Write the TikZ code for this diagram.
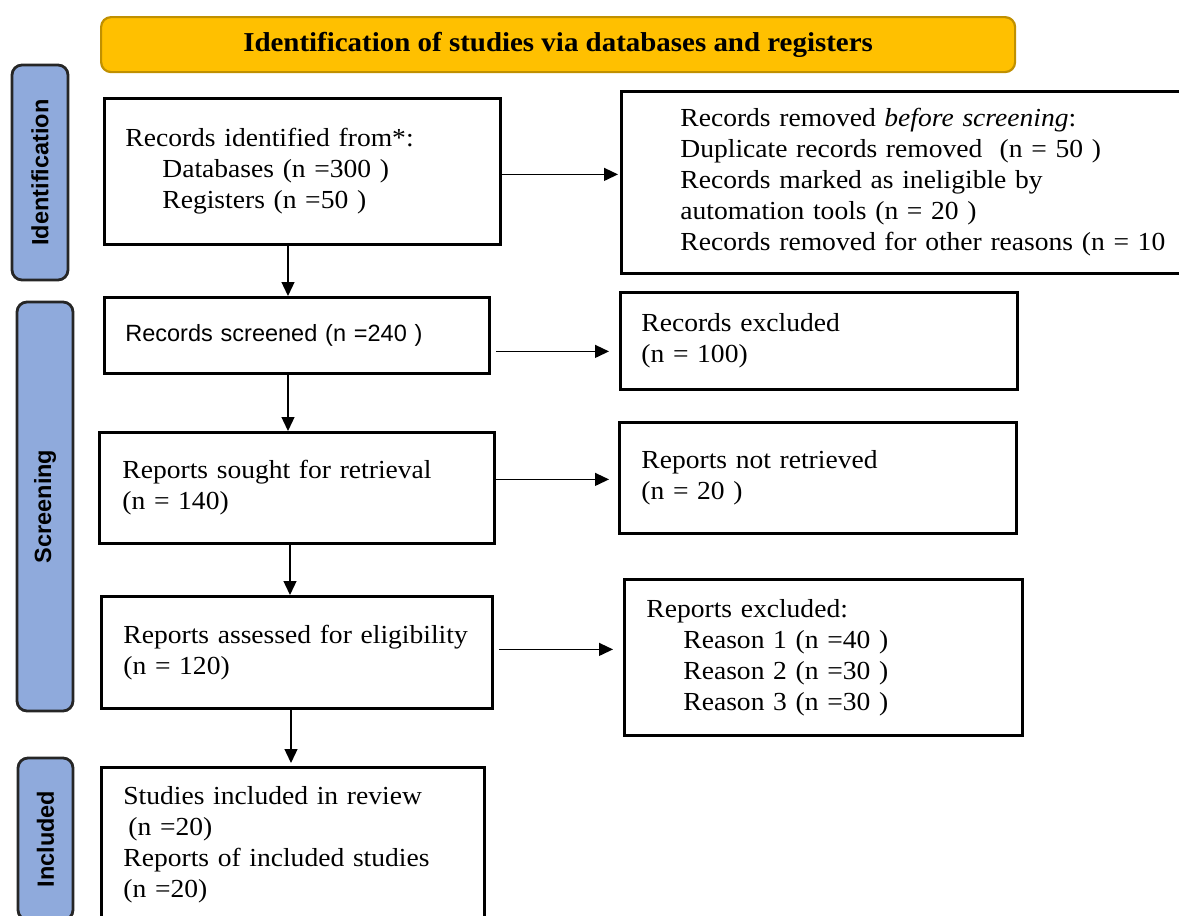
\documentclass[tikz,border=0pt]{standalone}
\usepackage{fontspec}
\setmainfont{Liberation Serif}[FakeStretch=1.06]
\newfontfamily\sansf{Liberation Sans}
\usetikzlibrary{arrows.meta,calc}
\definecolor{gold}{HTML}{FFC000}
\definecolor{goldborder}{HTML}{C09000}
\definecolor{sideblue}{HTML}{8FAADC}
\begin{document}
\begin{tikzpicture}[x=1pt,y=-1pt,
  box/.style={draw=black,line width=2.8pt,fill=white,align=left,inner xsep=21pt,inner ysep=0pt,
    font=\fontsize{26}{31}\selectfont,anchor=north west},
  side/.style={draw=black!85,line width=2.8pt,fill=sideblue,rounded corners=10pt,rotate=90,
    font=\sansf\bfseries\fontsize{23.5}{28}\selectfont},
  arr/.style={line width=1.3pt,-{Triangle[length=14pt,width=13pt]}}]
\useasboundingbox (0,0) rectangle (1179,916);
% title banner
\node[draw=goldborder,line width=2.2pt,fill=gold,rounded corners=10pt,minimum width=914pt,minimum height=55pt,
  anchor=north west,font=\bfseries\fontsize{27.3}{31}\selectfont] (title) at (100,16)
  {Identification of studies via databases and registers};
% side labels
\node[side,minimum width=215pt,minimum height=56pt] (sid) at (40,172.5) {Identification};
\node[side,minimum width=409pt,minimum height=56pt] (sscr) at (45,506.5) {Screening};
\node[side,minimum width=162pt,minimum height=55pt] (sinc) at (45.5,839) {Included};
% boxes
\node[box,minimum width=396pt,minimum height=146pt,text width=354pt] (b1) at (103,97)
  {Records identified from*:\\\hspace*{37pt}Databases (n =300 )\\\hspace*{37pt}Registers (n =50 )};
\node[box,minimum width=678pt,minimum height=182pt,inner xsep=59pt,text width=560pt] (rm) at (620,90)
  {Records removed \textit{before screening}:\\Duplicate records removed\ \ (n = 50 )\\Records marked as ineligible by\\automation tools (n = 20 )\\Records removed for other reasons (n = 10};
\node[box,minimum width=385pt,minimum height=76pt,text width=343pt,font=\sansf\fontsize{23.5}{29}\selectfont] (b2) at (103,296)
  {Records screened (n =240 )};
\node[box,minimum width=397pt,minimum height=97pt,text width=355pt] (ex) at (619,291)
  {Records excluded\\(n = 100)};
\node[box,minimum width=395pt,minimum height=111pt,inner xsep=23pt,text width=349pt] (b3) at (98,431)
  {Reports sought for retrieval\\(n = 140)};
\node[box,minimum width=397pt,minimum height=111pt,inner xsep=22pt,text width=353pt] (nr) at (618,421)
  {Reports not retrieved\\(n = 20 )};
\node[box,minimum width=391pt,minimum height=112pt,inner xsep=22pt,text width=347pt] (b4) at (100,595)
  {Reports assessed for eligibility\\(n = 120)};
\node[box,minimum width=398pt,minimum height=156pt,inner xsep=22pt,text width=354pt] (re) at (623,578)
  {Reports excluded:\\\hspace*{37pt}Reason 1 (n =40 )\\\hspace*{37pt}Reason 2 (n =30 )\\\hspace*{37pt}Reason 3 (n =30 )};
\node[box,minimum width=383pt,minimum height=154pt,inner xsep=22pt,text width=339pt] (b5) at (100,766)
  {Studies included in review\\\hspace*{5pt}(n =20)\\Reports of included studies\\(n =20)};
% horizontal arrows
\coordinate (h1) at ([yshift=-3pt]b1.east);
\coordinate (h2) at ([yshift=-16pt]b2.east);
\coordinate (h3) at ([yshift=8.5pt]b3.east);
\coordinate (h4) at ([yshift=3pt]b4.east);
\draw[arr,shorten >=2pt] (h1) -- (h1 -| rm.west);
\draw[arr,shorten <=5pt,shorten >=10pt] (h2) -- (h2 -| ex.west);
\draw[arr,shorten >=9pt] (h3) -- (h3 -| nr.west);
\draw[arr,shorten <=5pt,shorten >=10pt] (h4) -- (h4 -| re.west);
% vertical arrows
\coordinate (x1) at (288,0);
\coordinate (x2) at (290,0);
\coordinate (x3) at (291,0);
\draw[arr] (b1.south -| x1) -- (b2.north -| x1);
\draw[arr] (b2.south -| x1) -- (b3.north -| x1);
\draw[arr] (b3.south -| x2) -- (b4.north -| x2);
\draw[arr,shorten >=3pt] (b4.south -| x3) -- (b5.north -| x3);
\end{tikzpicture}
\end{document}
